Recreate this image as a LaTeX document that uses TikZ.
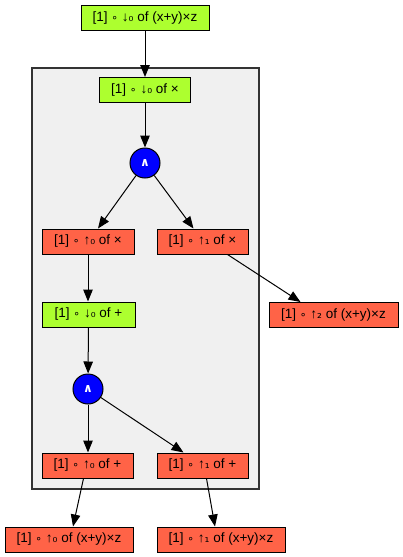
\documentclass[tikz,border=0pt]{standalone}
\usepackage{fontspec}
\setmainfont{Liberation Sans}
\newfontfamily\djv{DejaVu Sans}
\usetikzlibrary{arrows.meta,calc}
\definecolor{gy}{HTML}{ADFF2F}
\definecolor{tom}{HTML}{FF6347}
\definecolor{clfill}{HTML}{F0F0F0}
\newcommand{\cmp}{{\djv\scalebox{0.8}{∘}}}
\newcommand{\dn}[1]{{↓\djv\scalebox{0.9}{#1}}}
\newcommand{\up}[1]{{↑\djv\scalebox{0.9}{#1}}}
\begin{document}
\begin{tikzpicture}[x=1pt,y=-1pt,
 box/.style={draw=black, line width=1pt, minimum height=25pt, inner sep=0pt, font=\fontsize{13.5}{15}\selectfont},
 gbox/.style={box, fill=gy}, rbox/.style={box, fill=tom},
 andn/.style={circle, draw=black, line width=1pt, fill=blue, minimum size=30pt, inner sep=0pt, text=white, font=\djv\bfseries\fontsize{12}{14}\selectfont},
 edge/.style={-{Triangle[length=12pt,width=9.5pt]}, line width=1pt}]
\useasboundingbox (0,0) rectangle (403,557);
\draw[fill=clfill, draw=black!80, line width=1.2pt] (32,68) rectangle (259,489);
\node[gbox, minimum width=128pt] (top) at (145,18) {[1] \cmp\ \dn{₀} of (x+y)×z};
\node[gbox, minimum width=91pt] (dx) at (145,90) {[1] \cmp\ \dn{₀} of ×};
\node[andn] (a1) at (145,163) {∧};
\node[rbox, minimum width=92pt] (u0x) at (88,241.5) {[1] \cmp\ \up{₀} of ×};
\node[rbox, minimum width=91pt] (u1x) at (202.5,241.5) {[1] \cmp\ \up{₁} of ×};
\node[rbox, minimum width=129pt] (u2) at (333.5,315) {[1] \cmp\ \up{₂} of (x+y)×z};
\node[gbox, minimum width=93pt] (dp) at (88.5,314.5) {[1] \cmp\ \dn{₀} of +};
\node[andn] (a2) at (88,389) {∧};
\node[rbox, minimum width=91pt] (u0p) at (87.5,465.5) {[1] \cmp\ \up{₀} of +};
\node[rbox, minimum width=91pt] (u1p) at (202.5,465.5) {[1] \cmp\ \up{₁} of +};
\node[rbox, minimum width=128pt] (o0) at (69,539.5) {[1] \cmp\ \up{₀} of (x+y)×z};
\node[rbox, minimum width=128pt] (o1) at (221,539.5) {[1] \cmp\ \up{₁} of (x+y)×z};
\draw[edge] (top) -- (dx);
\draw[edge] (dx) -- (a1);
\draw[edge] (a1) -- ([xshift=10pt]u0x.north);
\draw[edge] (a1) -- ([xshift=-9pt]u1x.north);
\draw[edge] ([xshift=25pt]u1x.south) -- ([xshift=-33pt]u2.north);
\draw[edge] (u0x.south) -- (dp.north -| u0x.south);
\draw[edge] (dp) -- (a2);
\draw[edge] (a2) -- (u0p.north -| a2.south);
\draw[edge] (a2) -- ([xshift=-19pt]u1p.north);
\draw[edge] ([xshift=-4pt]u0p.south) -- ([xshift=4pt]o0.north);
\draw[edge] ([xshift=4pt]u1p.south) -- ([xshift=-6pt]o1.north);
\end{tikzpicture}
\end{document}
